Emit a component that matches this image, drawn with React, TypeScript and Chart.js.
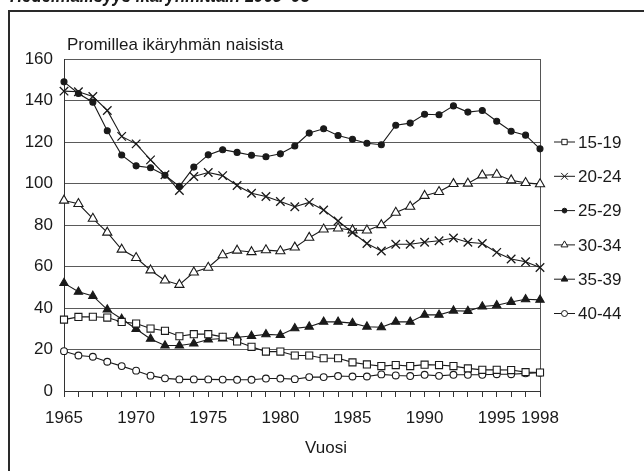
import React, { useEffect, useRef } from 'react';
import { Chart, registerables } from 'chart.js';

Chart.register(...registerables);

const years = [
  '1965', '1966', '1967', '1968', '1969', '1970', '1971', '1972', '1973', '1974',
  '1975', '1976', '1977', '1978', '1979', '1980', '1981', '1982', '1983', '1984',
  '1985', '1986', '1987', '1988', '1989', '1990', '1991', '1992', '1993', '1994',
  '1995', '1996', '1997', '1998',
];
const labeledYears = ['1965', '1970', '1975', '1980', '1985', '1990', '1995', '1998'];
const yTicks = [0, 20, 40, 60, 80, 100, 120, 140, 160];

const titleText = 'Hedelmällisyys ikäryhmittäin 1965–98';
const yAxisText = 'Promillea ikäryhmän naisista';
const xAxisText = 'Vuosi';

const age15_19 = [34.4, 35.7, 35.8, 35.4, 33.3, 32.5, 30.1, 29.0, 26.4, 27.4, 27.4, 26.1, 23.9, 21.3, 19.0, 19.0, 17.1, 17.1, 15.8, 15.8, 13.8, 12.8, 12.0, 12.5, 12.0, 12.7, 12.5, 12.0, 10.9, 10.2, 10.2, 10.1, 9.1, 8.9];
const age20_24 = [144.5, 144.2, 141.9, 135.2, 122.7, 119.1, 111.4, 104.2, 96.6, 103.4, 105.3, 103.8, 99.0, 95.3, 93.7, 91.3, 88.8, 90.9, 87.2, 81.9, 76.4, 71.1, 67.5, 70.7, 70.7, 71.7, 72.4, 73.7, 71.7, 71.1, 66.8, 63.6, 62.3, 59.5];
const age25_29 = [149.0, 143.4, 139.2, 125.4, 113.7, 108.5, 107.6, 104.0, 98.6, 107.9, 113.8, 116.3, 115.0, 113.6, 112.9, 114.3, 118.1, 124.3, 126.4, 123.1, 121.3, 119.4, 118.7, 128.1, 129.1, 133.4, 133.1, 137.4, 134.4, 135.2, 130.0, 125.2, 123.3, 116.7];
const age30_34 = [91.8, 90.2, 83.1, 76.4, 68.2, 64.2, 58.2, 53.3, 51.2, 57.2, 59.5, 65.5, 67.7, 67.0, 67.9, 67.4, 69.2, 73.9, 77.9, 78.4, 77.5, 77.4, 80.0, 86.0, 88.9, 94.1, 96.0, 99.8, 100.0, 104.0, 104.3, 101.6, 100.3, 99.7];
const age35_39 = [52.0, 47.8, 45.8, 39.2, 34.7, 29.9, 25.1, 21.9, 21.9, 22.9, 24.8, 25.3, 25.9, 26.5, 27.3, 27.0, 30.2, 31.0, 33.3, 33.3, 32.7, 31.0, 30.7, 33.3, 33.3, 36.7, 36.7, 38.7, 38.5, 40.7, 41.3, 42.9, 44.2, 43.9];
const age40_44 = [19.2, 17.1, 16.5, 14.1, 12.0, 9.8, 7.4, 6.1, 5.6, 5.6, 5.6, 5.5, 5.4, 5.4, 6.0, 6.0, 5.7, 6.7, 6.7, 7.2, 7.0, 7.0, 8.0, 7.5, 7.2, 7.8, 7.3, 7.8, 7.8, 7.8, 8.1, 8.1, 8.5, 8.8];

const seriesNames = ['15-19', '20-24', '25-29', '30-34', '35-39', '40-44'];
const seriesValues = [age15_19, age20_24, age25_29, age30_34, age35_39, age40_44];
const seriesStyles = ['rect', 'crossRot', 'circle', 'triangle', 'triangle', 'circle'];
const seriesFilled = [false, false, true, false, true, false];
const seriesRadius = [5.0, 6.0, 3.0, 5.3, 4.8, 3.4];
const legendRadius = [3.8, 4.8, 2.4, 4.0, 3.8, 3.0];

const FONT = '"Liberation Sans", Arial, sans-serif';
const INK = '#1a1a1a';

function drawMarker(ctx: CanvasRenderingContext2D, style: string, x: number, y: number, r: number, filled: boolean) {
  ctx.beginPath();
  if (style === 'rect') {
    const s = r * Math.SQRT1_2;
    ctx.rect(x - s, y - s, 2 * s, 2 * s);
  } else if (style === 'circle') {
    ctx.arc(x, y, r, 0, Math.PI * 2);
  } else if (style === 'triangle') {
    const a = (Math.PI * 2) / 3;
    ctx.moveTo(x, y - r);
    ctx.lineTo(x + Math.sin(a) * r, y - Math.cos(a) * r);
    ctx.lineTo(x - Math.sin(a) * r, y - Math.cos(a) * r);
    ctx.closePath();
  } else if (style === 'crossRot') {
    const d = r * Math.SQRT1_2;
    ctx.moveTo(x - d, y - d);
    ctx.lineTo(x + d, y + d);
    ctx.moveTo(x + d, y - d);
    ctx.lineTo(x - d, y + d);
  }
  if (style !== 'crossRot') {
    ctx.fillStyle = filled ? INK : '#ffffff';
    ctx.fill();
  }
  ctx.stroke();
}

const decorPlugin = {
  id: 'decor',
  beforeDraw(chart: any) {
    const ctx = chart.ctx as CanvasRenderingContext2D;
    ctx.save();
    ctx.fillStyle = '#ffffff';
    ctx.fillRect(0, 0, chart.width, chart.height);
    // title, clipped at the top edge as in the source
    ctx.font = `bold italic 20px ${FONT}`;
    ctx.fillStyle = INK;
    ctx.textBaseline = 'alphabetic';
    ctx.textAlign = 'left';
    const w = ctx.measureText(titleText).width;
    ctx.translate(10, 1.5);
    ctx.scale(300 / w, 1);
    ctx.fillText(titleText, 0, 0);
    ctx.restore();

    ctx.save();
    ctx.strokeStyle = '#2a2a2a';
    ctx.lineWidth = 2;
    ctx.beginPath();
    ctx.moveTo(9, chart.height + 2);
    ctx.lineTo(9, 11);
    ctx.lineTo(chart.width + 2, 11);
    ctx.stroke();
    ctx.restore();
  },
  beforeDatasetsDraw(chart: any) {
    const ctx = chart.ctx as CanvasRenderingContext2D;
    const a = chart.chartArea;
    ctx.save();
    ctx.strokeStyle = '#555555';
    ctx.lineWidth = 1;
    ctx.beginPath();
    ctx.moveTo(Math.round(a.right) + 0.5, a.top);
    ctx.lineTo(Math.round(a.right) + 0.5, a.bottom);
    ctx.stroke();
    ctx.restore();
  },
  afterDraw(chart: any) {
    const ctx = chart.ctx as CanvasRenderingContext2D;
    const a = chart.chartArea;
    ctx.save();
    ctx.fillStyle = INK;
    ctx.font = `17px ${FONT}`;
    ctx.textBaseline = 'middle';
    ctx.textAlign = 'left';
    ctx.fillText(yAxisText, a.left + 3, a.top - 14);
    ctx.textAlign = 'center';
    ctx.fillText(xAxisText, (a.left + a.right) / 2 + 24, a.bottom + 57);

    const lx0 = a.right + 14;
    const lx1 = a.right + 35;
    const tx = a.right + 38;
    seriesNames.forEach((name, i) => {
      const y = 142 + i * 34.3;
      ctx.strokeStyle = INK;
      ctx.lineWidth = 1;
      ctx.beginPath();
      ctx.moveTo(lx0, y);
      ctx.lineTo(lx1, y);
      ctx.stroke();
      drawMarker(ctx, seriesStyles[i], (lx0 + lx1) / 2, y, legendRadius[i], seriesFilled[i]);
      ctx.fillStyle = INK;
      ctx.textAlign = 'left';
      ctx.fillText(name, tx, y + 1);
    });
    ctx.restore();
  },
};

export default function App() {
  const ref = useRef<HTMLCanvasElement | null>(null);

  useEffect(() => {
    if (!ref.current) return;
    const datasets = seriesNames.map((name, i) => ({
      label: name,
      data: seriesValues[i],
      borderColor: INK,
      borderWidth: 1.1,
      pointStyle: seriesStyles[i] as any,
      pointRadius: seriesRadius[i],
      pointBackgroundColor: seriesFilled[i] ? INK : '#ffffff',
      pointBorderColor: INK,
      pointBorderWidth: seriesStyles[i] === 'crossRot' ? 1.3 : 1.1,
      tension: 0,
      fill: false,
    }));

    const chart = new Chart(ref.current, {
      type: 'line',
      data: { labels: years, datasets },
      plugins: [decorPlugin],
      options: {
        animation: false,
        responsive: false,
        maintainAspectRatio: false,
        devicePixelRatio: 1,
        layout: { padding: { top: 59, right: 104, left: 0, bottom: 0 } },
        plugins: {
          legend: { display: false },
          tooltip: { enabled: false },
          title: { display: false },
        },
        scales: {
          x: {
            type: 'category',
            offset: false,
            afterFit: (scale: any) => { scale.height = 80; },
            grid: {
              display: true,
              drawOnChartArea: false,
              drawTicks: true,
              tickLength: 6,
              color: '#333333',
              lineWidth: 1,
            },
            border: { display: true, color: '#333333', width: 1 },
            ticks: {
              autoSkip: false,
              maxRotation: 0,
              minRotation: 0,
              padding: 11,
              color: INK,
              font: { family: FONT, size: 17 },
              callback: (_v: any, i: number) => (labeledYears.includes(years[i]) ? years[i] : ''),
            },
          },
          y: {
            min: yTicks[0],
            max: yTicks[yTicks.length - 1],
            afterFit: (scale: any) => { scale.width = 64; },
            afterBuildTicks: (scale: any) => { scale.ticks = yTicks.map((v) => ({ value: v })); },
            grid: {
              display: true,
              drawTicks: false,
              color: '#5a5a5a',
              lineWidth: 1,
            },
            border: { display: true, color: '#333333', width: 1 },
            ticks: {
              padding: 11,
              color: INK,
              font: { family: FONT, size: 17 },
            },
          },
        },
      },
    });
    return () => chart.destroy();
  }, []);

  return (
    <div style={{ position: 'absolute', left: 0, top: 0, width: 644, height: 471, background: '#fff' }}>
      <canvas ref={ref} width={644} height={471} style={{ display: 'block', width: 644, height: 471 }} />
    </div>
  );
}
